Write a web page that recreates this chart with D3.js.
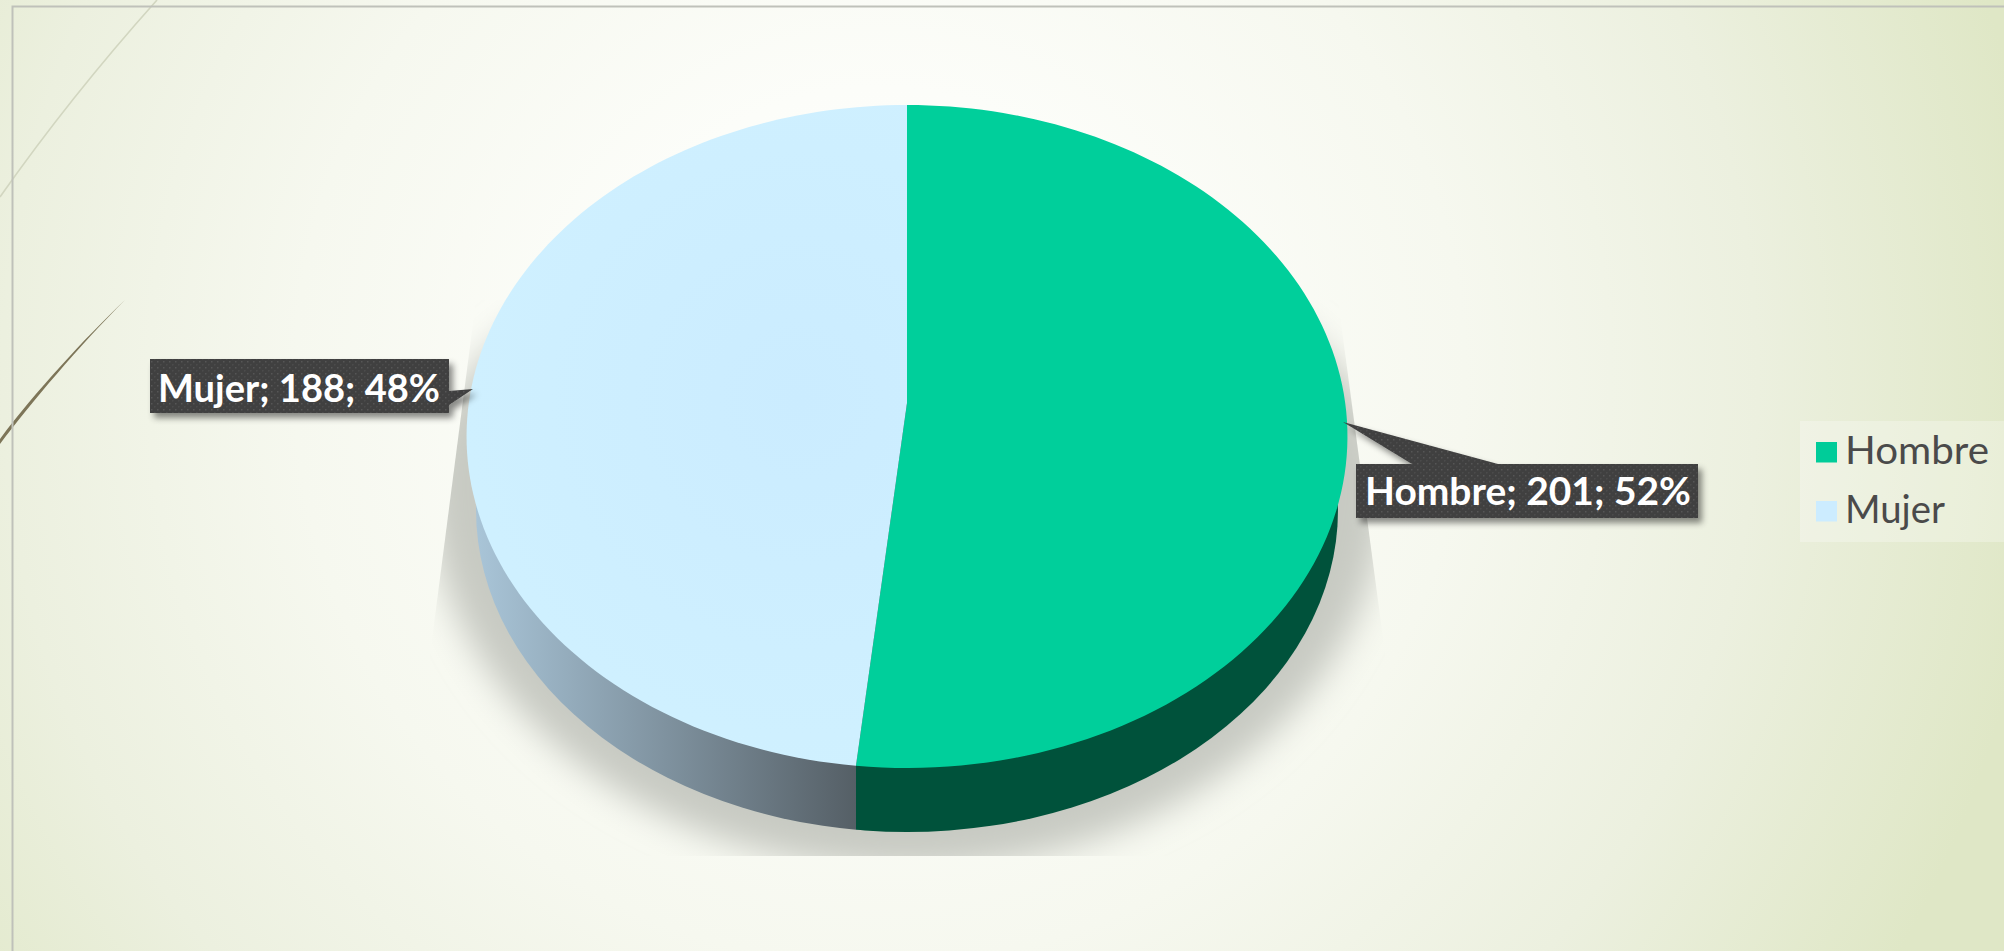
<!DOCTYPE html>
<html><head><meta charset="utf-8">
<script src="https://cdnjs.cloudflare.com/ajax/libs/d3/7.8.5/d3.min.js"></script>
<style>html,body{margin:0;padding:0;overflow:hidden;background:#fff}svg{display:block}</style>
</head><body><svg id="c" width="2004" height="951"></svg>
<script>
const categories = ["Hombre", "Mujer"];
const values = [201, 188];
const percents = [52, 48];
const colors = ["#00cf9b", "#cdeeff"];
const legendColors = ["#00cc99", "#ccecff"];

const svg = d3.select("#c");
const defs = svg.append("defs");

// background
const bg = defs.append("radialGradient").attr("id","bg").attr("gradientUnits","userSpaceOnUse")
  .attr("cx",880).attr("cy",380).attr("r",1170);
[[0,"#ffffff"],[0.25,"#fcfdf9"],[0.5,"#f6f8ef"],[0.75,"#ecf0df"],[1,"#dfe7c6"]].forEach(s=>bg.append("stop").attr("offset",s[0]).attr("stop-color",s[1]));
svg.append("rect").attr("width",2004).attr("height",951).attr("fill","url(#bg)");

// decorative frame and wisps
svg.append("path").attr("d","M0,197 C40,140 90,75 157,0").attr("fill","none").attr("stroke","#d2d6c0").attr("stroke-width",1.6);
svg.append("path").attr("d","M0,444 C30,404 80,345 125,300 C85,338 35,392 0,439Z").attr("fill","#7d7558");
svg.append("path").attr("d","M2004,6.5 H12.5 V951").attr("fill","none").attr("stroke","#bfc1ba").attr("stroke-width",2);

// perspective pie geometry
const apex = {x:907, y:403}, R = 438.2, S = 328.1, k = -0.1011;
const project = a => {
  const u = Math.sin(a), v = -Math.cos(a), w = 1 + k*v;
  return [apex.x + R*u/w, apex.y + S*v/w];
};
const pie = d3.pie().sort(null).value(d=>d);
const arcs = pie(values);
const line = d3.line();
const sampleArc = (a0,a1) => d3.range(0,121).map(i=>project(a0+(a1-a0)*i/120));
const seam = project(arcs[0].endAngle);

// shadow: lower half of a wide ellipse, upper half flatter so it tucks under the pie
defs.append("filter").attr("id","blurS").attr("filterUnits","userSpaceOnUse")
  .attr("x",300).attr("y",0).attr("width",1300).attr("height",951)
  .append("feGaussianBlur").attr("stdDeviation",17);
defs.append("clipPath").attr("id","clipS").append("polygon").attr("points","476,300 404,856 1412,856 1338,300");
svg.append("g").attr("clip-path","url(#clipS)")
  .append("path").attr("d","M427,480 A480,260 0 0 1 1387,480 A480,390 0 0 1 427,480Z")
  .attr("fill","#c8cac3").attr("filter","url(#blurS)");

// walls
const wall = {cx:907, cy:510, rx:431, ry:322};
const wg = defs.append("linearGradient").attr("id","wallL").attr("gradientUnits","userSpaceOnUse")
  .attr("x1",475).attr("x2",seam[0]).attr("y1",0).attr("y2",0);
wg.append("stop").attr("offset",0).attr("stop-color","#a9c5d8");
wg.append("stop").attr("offset",1).attr("stop-color","#555f66");
defs.append("clipPath").attr("id","wr").append("rect").attr("x",seam[0]).attr("y",0).attr("width",1200).attr("height",951);
defs.append("clipPath").attr("id","wl").append("rect").attr("x",0).attr("y",0).attr("width",seam[0]).attr("height",951);
const wallFill = ["#00523b","url(#wallL)"], wallClip = ["url(#wr)","url(#wl)"];
svg.selectAll(".wall").data(arcs).join("ellipse").attr("class","wall")
  .attr("cx",wall.cx).attr("cy",wall.cy).attr("rx",wall.rx).attr("ry",wall.ry)
  .attr("fill",(d,i)=>wallFill[i]).attr("clip-path",(d,i)=>wallClip[i]);

// top slices
const topG = defs.append("radialGradient").attr("id","mj").attr("gradientUnits","userSpaceOnUse")
  .attr("cx",800).attr("cy",400).attr("r",420);
topG.append("stop").attr("offset",0).attr("stop-color","#cbecff");
topG.append("stop").attr("offset",1).attr("stop-color","#d0f1ff");
const topFill = [colors[0],"url(#mj)"];
svg.selectAll(".slice").data(arcs).join("path").attr("class","slice")
  .attr("d",d=>line([[apex.x,apex.y],...sampleArc(d.startAngle,d.endAngle)])+"Z")
  .attr("fill",(d,i)=>topFill[i]);

// labels
const pat = defs.append("pattern").attr("id","dots").attr("patternUnits","userSpaceOnUse").attr("width",6).attr("height",6);
pat.append("rect").attr("width",6).attr("height",6).attr("fill","#3f3f3f");
pat.append("rect").attr("x",1).attr("y",1).attr("width",1.5).attr("height",1.5).attr("fill","#575757");
pat.append("rect").attr("x",4).attr("y",4).attr("width",1.5).attr("height",1.5).attr("fill","#4c4c4c");
const ds = defs.append("filter").attr("id","ds").attr("x","-10%").attr("y","-30%").attr("width","120%").attr("height","170%");
ds.append("feDropShadow").attr("dx",4).attr("dy",5).attr("stdDeviation",3).attr("flood-color","#000").attr("flood-opacity",0.45);

const labelBoxes = [
  "M1356,464 H1412 L1343,422 L1498,464 H1698 V518 H1356Z",
  "M150,359 H449 V391 L473,389 L449,405 V413 H150Z"
];
const labelPos = [{x:1365,y:505,w:326},{x:158,y:402,w:282}];
svg.selectAll(".lb").data(categories).join("path").attr("class","lb")
  .attr("d",(d,i)=>labelBoxes[i]).attr("fill","url(#dots)").attr("filter","url(#ds)");
svg.selectAll(".lt").data(categories).join("text").attr("class","lt")
  .attr("x",(d,i)=>labelPos[i].x).attr("y",(d,i)=>labelPos[i].y)
  .attr("textLength",(d,i)=>labelPos[i].w).attr("lengthAdjust","spacingAndGlyphs")
  .attr("font-family","Lato, 'Open Sans', sans-serif").attr("font-weight",700).attr("font-size",38).attr("fill","#fff")
  .text((d,i)=>`${d}; ${values[i]}; ${percents[i]}%`);

// legend
svg.append("rect").attr("x",1800).attr("y",421).attr("width",204).attr("height",121).attr("fill","#ffffff").attr("fill-opacity",0.28);
const ly = d3.scalePoint().domain(categories).range([464,523]);
svg.selectAll(".ls").data(categories).join("rect").attr("class","ls")
  .attr("x",1816).attr("y",d=>ly(d)-22).attr("width",21).attr("height",20.5).attr("fill",(d,i)=>legendColors[i]);
const legW = [144,100];
svg.selectAll(".lg").data(categories).join("text").attr("class","lg")
  .attr("x",1845).attr("y",d=>ly(d)).attr("textLength",(d,i)=>legW[i]).attr("lengthAdjust","spacingAndGlyphs")
  .attr("font-family","Lato, 'Open Sans', sans-serif").attr("font-weight",400).attr("font-size",38).attr("fill","#4a4a4a")
  .text(d=>d);
</script></body></html>
